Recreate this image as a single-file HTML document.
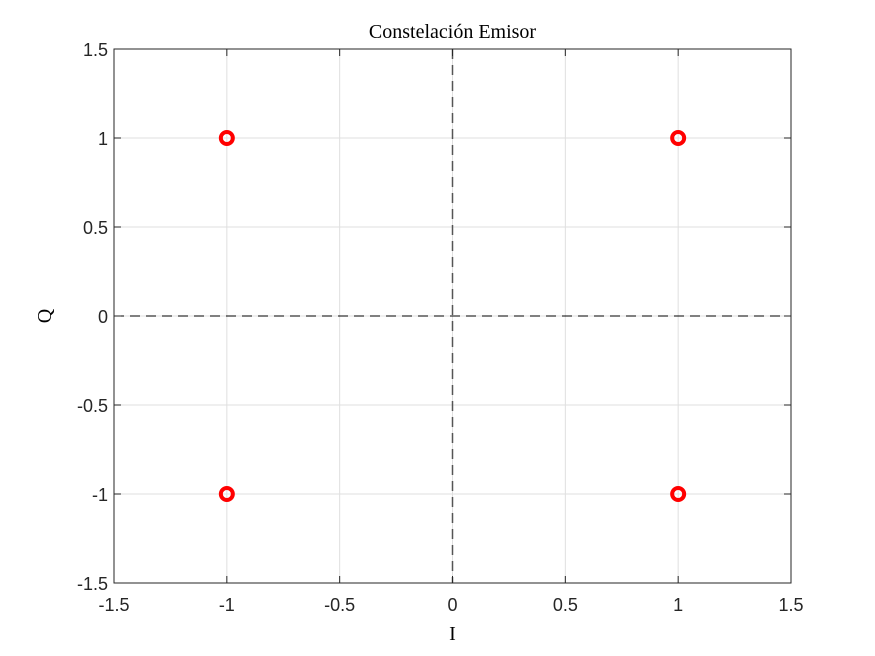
<!DOCTYPE html>
<html><head><meta charset="utf-8"><style>
body{margin:0;background:#fff;}
svg{display:block;}
</style></head><body>
<svg id="chart" width="875" height="656" xmlns="http://www.w3.org/2000/svg">
<rect x="0" y="0" width="875" height="656" fill="#fff"/>
<g id="grid"></g>
<g id="refs"></g>
<rect x="114" y="49" width="677" height="534" fill="none" stroke="#262626" stroke-width="1"/>
<g id="ticks"></g>
<g id="points"></g>
<text x="452.5" y="38" text-anchor="middle" font-family="Liberation Serif, serif" font-size="20" fill="#000">Constelación Emisor</text>
<text x="452.5" y="640" text-anchor="middle" font-family="Liberation Serif, serif" font-size="20" fill="#000">I</text>
<text x="0" y="0" transform="translate(51,316) rotate(-90)" text-anchor="middle" font-family="Liberation Serif, serif" font-size="20" fill="#000">Q</text>
</svg>
<script>
const xTicks=[-1.5,-1,-0.5,0,0.5,1,1.5];
const yTicks=[-1.5,-1,-0.5,0,0.5,1,1.5];
const tickLabels=['-1.5','-1','-0.5','0','0.5','1','1.5'];
const pointsI=[1,-1,-1,1];
const pointsQ=[1,1,-1,-1];
const X0=114,X1=791,Y0=583,Y1=49;
const sx=v=>X0+(v+1.5)/3*(X1-X0);
const sy=v=>Y0-(v+1.5)/3*(Y0-Y1);
const NS='http://www.w3.org/2000/svg';
function mk(tag,attrs,parent){const e=document.createElementNS(NS,tag);for(const k in attrs)e.setAttribute(k,attrs[k]);parent.appendChild(e);return e;}
const grid=document.getElementById('grid'),ticks=document.getElementById('ticks'),refs=document.getElementById('refs'),pts=document.getElementById('points');
xTicks.forEach((t,i)=>{
  const x=sx(t);
  const g=mk('line',{x1:x,x2:x,y1:Y1,y2:Y0,stroke:'#dfdfdf','stroke-width':1},grid);
  
  
  mk('line',{x1:x,x2:x,y1:Y0,y2:Y0-7,stroke:'#262626'},ticks);
  mk('line',{x1:x,x2:x,y1:Y1,y2:Y1+7,stroke:'#262626'},ticks);
  const l=mk('text',{x:x,y:Y0+28,'text-anchor':'middle','font-family':'Liberation Sans, sans-serif','font-size':'18',fill:'#262626'},ticks);
  l.textContent=tickLabels[i];
  
  
});
yTicks.forEach((t,i)=>{
  const y=sy(t);
  const g=mk('line',{x1:X0,x2:X1,y1:y,y2:y,stroke:'#dfdfdf','stroke-width':1},grid);
  
  
  mk('line',{x1:X0,x2:X0+7,y1:y,y2:y,stroke:'#262626'},ticks);
  mk('line',{x1:X1,x2:X1-7,y1:y,y2:y,stroke:'#262626'},ticks);
  const l=mk('text',{x:X0-6,y:y+7,'text-anchor':'end','font-family':'Liberation Sans, sans-serif','font-size':'18',fill:'#262626'},ticks);
  l.textContent=tickLabels[i];
  
  
});
const h=mk('line',{x1:X0,x2:X1,y1:sy(0),y2:sy(0),stroke:'#000','stroke-dasharray':'10,6','stroke-width':1},refs);


const v=mk('line',{x1:sx(0),x2:sx(0),y1:Y1,y2:Y0,stroke:'#555','stroke-dasharray':'10,6','stroke-width':1.5},refs);


pointsI.forEach((iv,k)=>{
  const c=mk('circle',{cx:sx(iv),cy:sy(pointsQ[k]),r:6,fill:'none',stroke:'#ff0000','stroke-width':4},pts);
  
  
});
</script>
</body></html>
